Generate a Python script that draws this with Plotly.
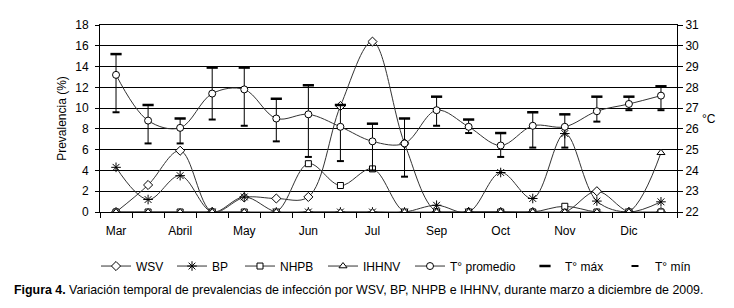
import plotly.graph_objects as go

# ---- data ----
periods = list(range(18))  # semi-monthly sampling points, March to December
month_ticks = [0, 2, 4, 6, 8, 10, 12, 14, 16]
month_labels = ["Mar", "Abril", "May", "Jun", "Jul", "Sep", "Oct", "Nov", "Dic"]

wsv = [0, 2.6, 5.9, 0, 1.4, 1.3, 1.45, 10.2, 16.4, 6.6, 0, 0, 0, 0, 0, 2.0, 0, 0]
bp = [4.3, 1.2, 3.5, 0, 1.45, 0, 0, 0, 0, 0, 0.65, 0, 3.8, 1.3, 7.55, 1.05, 0, 0.98]
nhpb = [0, 0, 0, 0, 0, 0, 4.65, 2.55, 4.15, 0, 0, 0, 0, 0, 0.55, 0, 0, 0]
ihhnv = [0, 0, 0, 0, 0, 0, 0, 0, 0, 0, 0, 0, 0, 0, 0, 0, 0, 5.7]

t_prom = [28.6, 26.4, 26.05, 27.7, 27.9, 26.5, 26.7, 26.1, 25.4, 25.3, 26.9, 26.1, 25.2, 26.15, 26.1, 26.85, 27.2, 27.6]
t_max = [29.6, 27.15, 26.5, 28.95, 28.95, 27.45, 28.1, 27.15, 26.25, 26.5, 27.55, 26.45, 25.8, 26.8, 26.7, 27.55, 27.55, 28.05]
t_min = [26.8, 25.3, 25.3, 26.45, 26.15, 25.4, 24.65, 24.45, 24.0, 23.7, 26.15, 25.8, 24.65, 25.1, 25.1, 26.35, 26.9, 26.9]

FONT = "Liberation Sans, Arial, sans-serif"
LINE = "#333333"

fig = go.Figure()

def prev_trace(name, y, symbol, size, legend):
    return go.Scatter(
        x=periods, y=y, name=name, mode="lines+markers", legend=legend,
        line=dict(color=LINE, width=1, shape="spline", smoothing=1),
        marker=dict(symbol=symbol, size=size, color="white",
                    line=dict(color="black", width=1)),
        yaxis="y",
    )

fig.add_trace(prev_trace("WSV", wsv, "diamond", 7, "legend"))
fig.add_trace(go.Scatter(
    x=periods, y=bp, name="BP", mode="lines+markers", legend="legend2",
    line=dict(color=LINE, width=1, shape="spline", smoothing=1),
    marker=dict(symbol="asterisk-open", size=8, color="black",
                line=dict(color="black", width=1)),
))
fig.add_trace(prev_trace("NHPB", nhpb, "square", 6, "legend3"))
fig.add_trace(prev_trace("IHHNV", ihhnv, "triangle-up", 7, "legend4"))

err_up = [a - b for a, b in zip(t_max, t_prom)]
err_dn = [b - c for b, c in zip(t_prom, t_min)]

fig.add_trace(go.Scatter(
    x=periods, y=t_prom, name="T° promedio", mode="lines+markers", legend="legend5",
    line=dict(color=LINE, width=1, shape="spline", smoothing=1),
    marker=dict(symbol="circle", size=7, color="white",
                line=dict(color="black", width=1)),
    error_y=dict(type="data", symmetric=False, array=err_up, arrayminus=err_dn,
                 width=0, thickness=1, color="black"),
    yaxis="y2",
))
fig.add_trace(go.Scatter(
    x=periods, y=t_max, name="T° máx", mode="markers", legend="legend6",
    marker=dict(symbol="line-ew-open", size=8, color="black",
                line=dict(color="black", width=2.5)),
    yaxis="y2",
))
fig.add_trace(go.Scatter(
    x=periods, y=t_min, name="T° mín", mode="markers", legend="legend7",
    marker=dict(symbol="line-ew-open", size=5, color="black",
                line=dict(color="black", width=2)),
    yaxis="y2",
))

# legend entries: left edge of each entry's label in window pixels
legend_text_px = [136, 212, 280, 363, 450, 565, 655]

def legend_at(px):
    return dict(orientation="h", x=(px - 40 - 100) / 577, xanchor="left",
                y=-0.289, yanchor="middle",
                font=dict(family=FONT, size=12, color="black"),
                bgcolor="rgba(0,0,0,0)")

# page body has an 8px default margin: figure is sized so that the plot area
# lands at x 100..677, y 18..212 in the window
fig.update_layout(
    width=718, height=292, autosize=False,
    margin=dict(l=92, r=49, t=10, b=88),
    paper_bgcolor="white", plot_bgcolor="white",
    font=dict(family=FONT, size=12, color="black"),
    showlegend=True,
    legend=legend_at(legend_text_px[0]),
    legend2=legend_at(legend_text_px[1]),
    legend3=legend_at(legend_text_px[2]),
    legend4=legend_at(legend_text_px[3]),
    legend5=legend_at(legend_text_px[4]),
    legend6=legend_at(legend_text_px[5]),
    legend7=legend_at(legend_text_px[6]),
    xaxis=dict(
        range=[-0.5, 17.5], tickmode="array", tickvals=month_ticks, ticktext=month_labels,
        ticks="outside", ticklen=8, tickcolor="rgba(0,0,0,0)",
        showline=True, linecolor="black", linewidth=1, mirror=True,
        showgrid=False, zeroline=False, tickfont=dict(size=12),
        minor=dict(tick0=-0.5, dtick=1, ticks="outside", ticklen=5,
                   tickcolor="black", tickwidth=1, showgrid=False),
    ),
    yaxis=dict(
        range=[0, 18], tick0=0, dtick=2, showgrid=True, gridcolor="black", gridwidth=1,
        showline=True, linecolor="black", linewidth=1, ticks="outside", ticklen=4,
        tickcolor="black", zeroline=False, tickfont=dict(size=12), ticklabelstandoff=4,
        title=dict(text="Prevalencia (%)", font=dict(size=12), standoff=6),
    ),
    yaxis2=dict(
        range=[22, 31], tick0=22, dtick=1, overlaying="y", side="right",
        showgrid=False, showline=True, linecolor="black", linewidth=1,
        ticks="outside", ticklen=5, tickcolor="black", zeroline=False,
        tickfont=dict(size=12),
    ),
    annotations=[
        dict(text="°C", x=(700 - 100) / 577, y=0.5, xref="paper", yref="paper",
             xanchor="left", yanchor="middle", showarrow=False,
             font=dict(family=FONT, size=12)),
        dict(text="<b>Figura 4.</b> Variación temporal de prevalencias de infección por WSV, BP, NHPB e IHHNV, durante marzo a diciembre de 2009.",
             x=-0.1525, y=-0.4175, xref="paper", yref="paper",
             xanchor="left", yanchor="middle", showarrow=False,
             font=dict(family=FONT, size=12.4)),
    ],
)

fig.write_html("out.html")
